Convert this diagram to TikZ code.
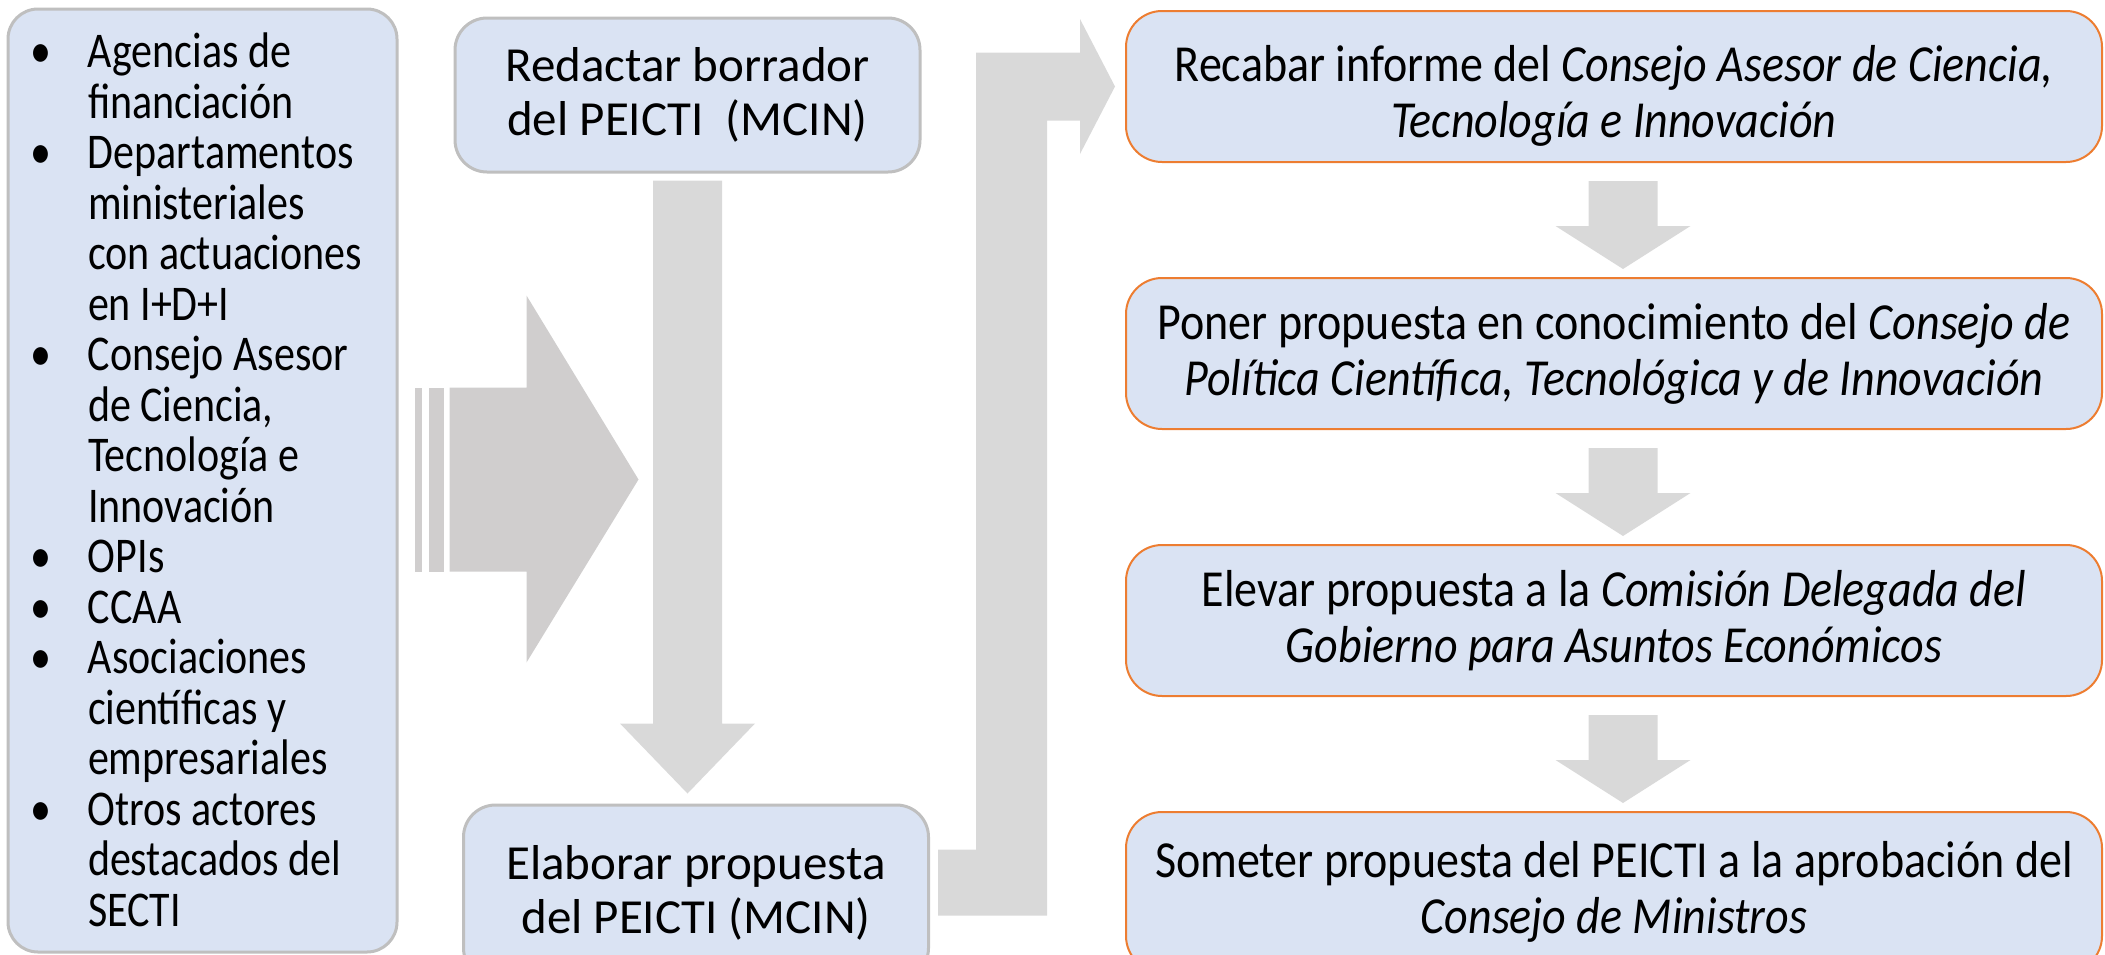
\documentclass[tikz,border=0pt]{standalone}
\usepackage{fontspec}
\setmainfont{Carlito}
\newfontfamily\listfont{Carlito}[FakeStretch=0.84]
\newfontfamily\stepfont{Carlito}[FakeStretch=0.885]
\usetikzlibrary{positioning}
\usetikzlibrary{calc}

\definecolor{boxblue}{HTML}{DAE3F3}
\definecolor{boxline}{HTML}{BFBFBF}
\definecolor{stepline}{HTML}{ED7D31}
\definecolor{arrowfill}{HTML}{D9D9D9}
\definecolor{bigarrowfill}{HTML}{D0CECE}

\tikzset{
  listbox/.style={draw=boxline, line width=1.5pt, fill=boxblue, rounded corners=15pt,
    align=flush left, inner xsep=10pt, text width=174.5pt, minimum height=471.5pt,
    font=\listfont\fontsize{25}{25.25}\selectfont},
  mcinbox/.style={draw=boxline, line width=1.5pt, fill=boxblue, rounded corners=16pt,
    align=center, minimum width=232.5pt, minimum height=77pt,
    font=\fontsize{24.5}{27}\selectfont},
  stepbox/.style={draw=stepline, line width=1pt, fill=boxblue, rounded corners=18pt,
    align=center, inner xsep=2pt, minimum width=488pt, minimum height=75.5pt,
    font=\stepfont\fontsize{26}{28}\selectfont},
}

\newcommand{\bul}{\makebox[30pt][l]{\hspace{1pt}\textbullet}}
\newcommand{\ind}{\makebox[30pt]{}}
% block arrow pointing down: from, to, x offset, top gap, head length, tip gap
\newcommand{\downblock}[6]{%
  \coordinate (topbase) at ($(#1.south)+(#3,0)$);
  \coordinate (tipbase) at (topbase |- #2.north);
  \fill[arrowfill] ($(topbase)+(-34.5,#4)$) -- ($(topbase)+(34.5,#4)$)
    -- ($(tipbase)+(34.5,-#6-#5)$) -- ($(tipbase)+(67.5,-#6-#5)$)
    -- ($(tipbase)+(0,-#6)$) -- ($(tipbase)+(-67.5,-#6-#5)$)
    -- ($(tipbase)+(-34.5,-#6-#5)$) -- cycle;}

\begin{document}
\begin{tikzpicture}[x=0.5pt, y=-0.5pt]
\useasboundingbox (0,0) rectangle (2105,954);

% who takes part
\node[listbox] (actores) at (202.5,480.5) {\rule{0pt}{19pt}\bul Agencias de\\
  \ind financiación\\
  \bul Departamentos\\
  \ind ministeriales\\
  \ind con actuaciones\\
  \ind en I+D+I\\
  \bul Consejo Asesor\\
  \ind de Ciencia,\\
  \ind Tecnología e\\
  \ind Innovación\\
  \bul OPIs\\
  \bul CCAA\\
  \bul Asociaciones\\
  \ind científicas y\\
  \ind empresariales\\
  \bul Otros actores\\
  \ind destacados del\\
  \ind SECTI\rule[-2.5pt]{0pt}{0pt}};

% MCIN
\node[mcinbox] (borrador) at (687.5,95) {Redactar borrador\\del PEICTI\ \ (MCIN)};
\node[mcinbox, minimum height=87.5pt] (propuesta) at (696,892.5) {Elaborar propuesta\\del PEICTI (MCIN)};

% approval steps
\node[stepbox] (informe) at (1614,86.5) {\rule{0pt}{27pt}Recabar informe del \textit{Consejo Asesor de Ciencia,}\\\textit{Tecnología e Innovación}};
\node[stepbox, below=57pt of informe] (conocimiento) {Poner propuesta en conocimiento del \textit{Consejo de}\\\textit{Política Científica, Tecnológica y de Innovación}};
\node[stepbox, below=57pt of conocimiento] (comision) {Elevar propuesta a la \textit{Comisión Delegada del}\\\textit{Gobierno para Asuntos Económicos}};
\node[stepbox, below=57pt of comision, minimum height=80pt] (ministros) {Someter propuesta del PEICTI a la aprobación del\\\textit{Consejo de Ministros}};

% striped arrow
\begin{scope}[shift={(actores.east)}]
  \fill[bigarrowfill] (16,-93) rectangle (23,91);
  \fill[bigarrowfill] (30,-93) rectangle (45,91);
  \fill[bigarrowfill] (51,-93) -- (128,-93) -- (128,-185) -- (240,-1)
    -- (128,182) -- (128,91) -- (51,91) -- cycle;
\end{scope}

\downblock{borrador}{propuesta}{0}{7}{70}{10}

% bent arrow
\coordinate (e1) at ($(propuesta.east)+(8,0)$);
\coordinate (e2) at ($(informe.west)+(-10,0)$);
\fill[arrowfill] ($(e1)+(0,-43)$) -- ($(e1)+(38,-43)$) |- ($(e2)+(-35,-34)$)
  -- ($(e2)+(-35,-67.5)$) -- (e2) -- ($(e2)+(-35,67.5)$) -- ($(e2)+(-35,34)$)
  -| ($(e1)+(109,23)$) -- ($(e1)+(0,23)$) -- cycle;

\downblock{informe}{conocimiento}{9}{18}{43}{8}
\downblock{conocimiento}{comision}{9}{18}{43}{8}
\downblock{comision}{ministros}{9}{18}{43}{8}
\end{tikzpicture}
\end{document}
